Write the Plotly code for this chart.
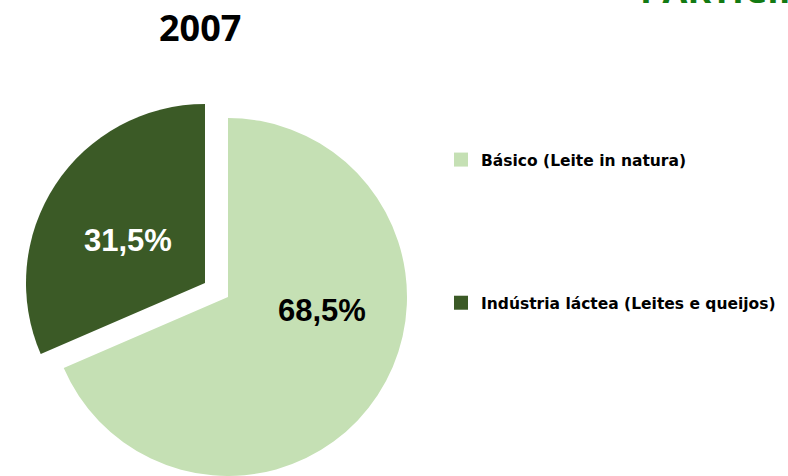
import plotly.graph_objects as go

categories = ["Básico (Leite in natura)", "Indústria láctea (Leites e queijos)"]
shares = [68.5, 31.5]
colors = ["#C5E0B4", "#3B5A26"]
text_colors = ["#000000", "#FFFFFF"]
title_text = "2007"
header_text = "PARTICIPAÇÃO"

W, H = 788, 476
transparent = "rgba(0,0,0,0)"


def fx(px):
    return px / W


def fy(py):
    return (H - py) / H


def pct(v):
    return f"{v / sum(shares) * 100:.1f}".replace(".", ",") + "%"


fig = go.Figure()

# main (light) slice, dark slice hidden
fig.add_trace(go.Pie(
    labels=categories, values=shares, sort=False, direction="clockwise", rotation=0,
    marker=dict(colors=[colors[0], transparent], line=dict(width=0)),
    textinfo="none",
    domain=dict(x=[fx(228 - 190), fx(228 + 190)], y=[fy(476), fy(118)]),
    showlegend=False, hoverinfo="skip",
))

# exploded (dark) slice
fig.add_trace(go.Pie(
    labels=categories, values=shares, sort=False, direction="clockwise", rotation=0,
    marker=dict(colors=[transparent, colors[1]], line=dict(width=0)),
    textinfo="none",
    domain=dict(x=[fx(205 - 179), fx(205 + 179)], y=[fy(462), fy(104)]),
    showlegend=False, hoverinfo="skip",
))

# legend entries
for i, (cat, col) in enumerate(zip(categories, colors)):
    fig.add_trace(go.Scatter(
        x=[None], y=[None], mode="markers", name=cat, legendgroup=f"g{i}",
        marker=dict(symbol="square", size=14, color=col),
    ))

label_pos = [(322, 310), (128, 240)]
annotations = [
    dict(text=pct(v), x=fx(px), y=fy(py), xref="paper", yref="paper",
         xanchor="center", yanchor="middle", showarrow=False,
         font=dict(family="Liberation Sans", size=31, color=tc, weight="bold"))
    for v, (px, py), tc in zip(shares, label_pos, text_colors)
]
annotations += [
    dict(text=title_text, x=fx(200), y=fy(27), xref="paper", yref="paper",
         xanchor="center", yanchor="middle", showarrow=False,
         font=dict(family="Open Sans", size=36, color="#000000", weight="bold")),
    dict(text=header_text, x=fx(638), y=fy(16), xref="paper", yref="paper",
         xanchor="left", yanchor="bottom", showarrow=False,
         font=dict(family="Open Sans", size=36, color="#137A13", weight="bold")),
]

fig.update_layout(
    width=W, height=H,
    margin=dict(l=0, r=0, t=0, b=0),
    paper_bgcolor="white", plot_bgcolor="white",
    separators=",.",
    xaxis=dict(visible=False), yaxis=dict(visible=False),
    legend=dict(
        x=fx(441), y=fy(143), xanchor="left", yanchor="top",
        font=dict(family="DejaVu Sans", size=15.5, color="#000000", weight="bold"),
        tracegroupgap=120, itemwidth=30, bgcolor="rgba(0,0,0,0)",
    ),
    annotations=annotations,
)

fig.write_html("out.html", config={"displayModeBar": False},
               post_script="document.body.style.margin='0';")
